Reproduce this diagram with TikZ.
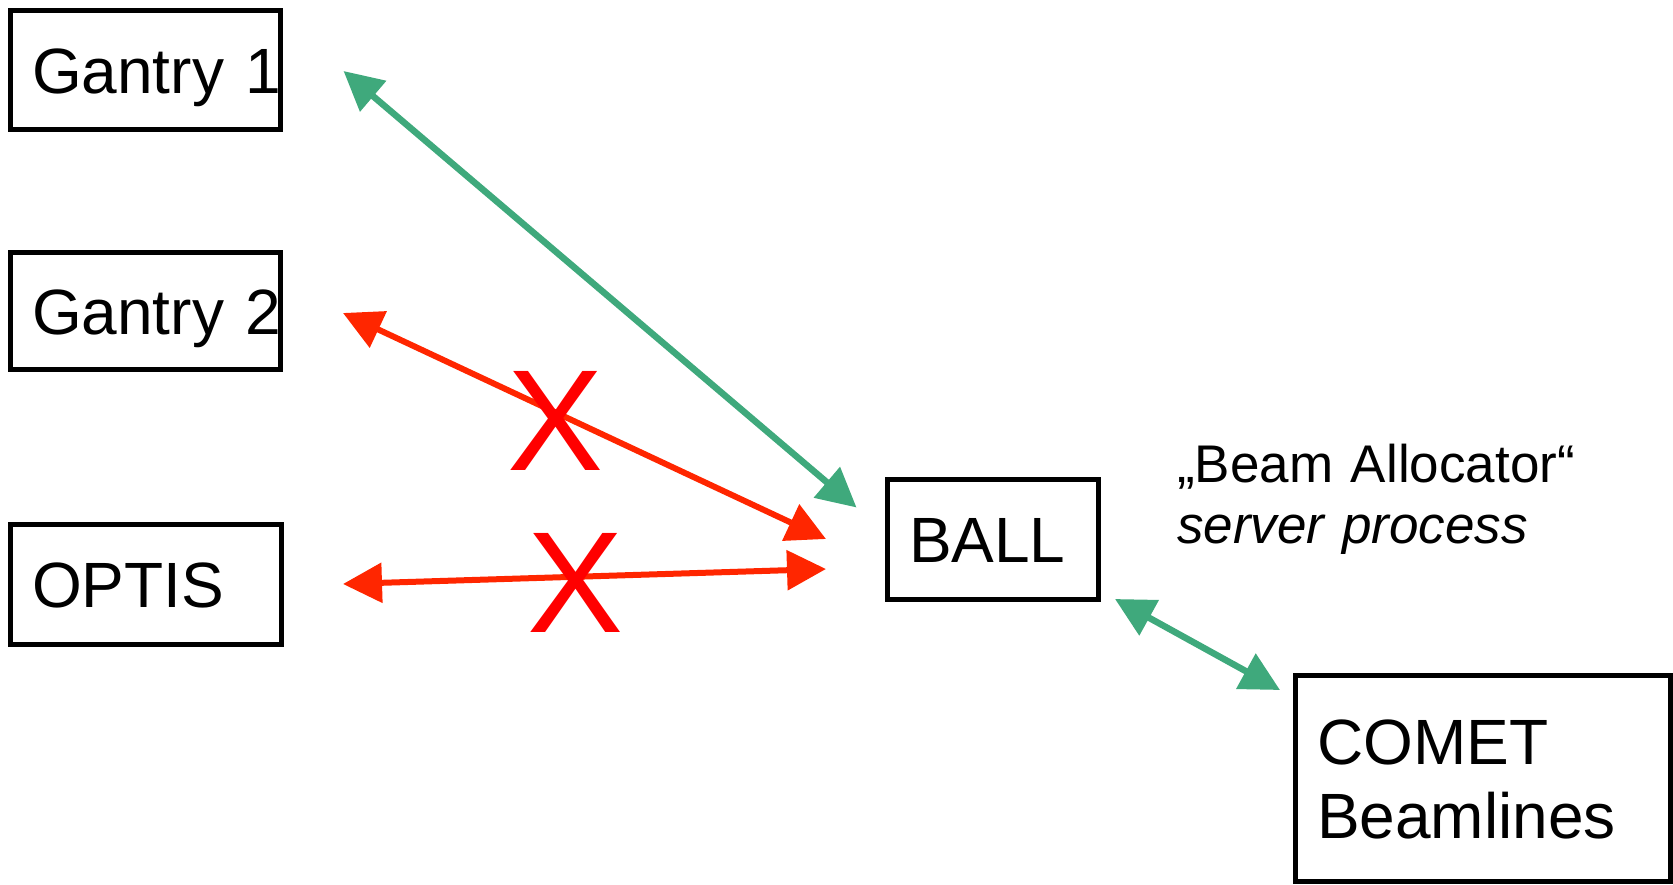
\documentclass[tikz,border=0pt]{standalone}
\usepackage{fontspec}
\setmainfont{Liberation Sans}
\usetikzlibrary{arrows.meta,calc}
\definecolor{arrgreen}{HTML}{3FA97C}
\definecolor{arrred}{HTML}{FF2600}
\definecolor{xred}{HTML}{FF0000}
\begin{document}
\begin{tikzpicture}[x=1pt,y=-1pt,
  boxnode/.style={draw=black, line width=5pt, rectangle, anchor=north west,
    outer sep=0pt, inner xsep=21.5pt, inner ysep=0pt, align=left,
    text height=46.5pt, text depth=0pt,
    font=\fontsize{64pt}{74pt}\selectfont},
  greenarrow/.style={draw=arrgreen, line width=6.5pt, {Triangle[length=39pt,width=39pt]}-{Triangle[length=39pt,width=39pt]}},
  redarrow/.style={draw=arrred, line width=6pt, {Triangle[length=39pt,width=39pt]}-{Triangle[length=39pt,width=39pt]}},
  xmark/.style={text=xred, font=\fontsize{144pt}{144pt}\selectfont, inner sep=0pt, anchor=base},
  notetext/.style={anchor=base west, inner sep=0pt, text width=440pt, align=left,
    font=\fontsize{53pt}{61pt}\selectfont}]
\useasboundingbox (0,0) rectangle (1673,884);

\node[boxnode, minimum width=270pt, minimum height=119pt, text width=227pt] (g1) at (10.5,10.5) {\mbox{Gantry 1}};
\node[boxnode, minimum width=270pt, minimum height=117pt, text width=227pt] (g2) at (10.5,252.5) {\mbox{Gantry 2}};
\node[boxnode, minimum width=271pt, minimum height=120pt, text width=228pt] (optis) at (10.5,524.5) {OPTIS};
\node[boxnode, minimum width=211pt, minimum height=120pt, text width=168pt] (ball) at (887.5,479.5) {BALL};
\node[boxnode, minimum width=375pt, minimum height=206pt, text width=332pt, text depth=74pt] (comet) at (1295.5,675.5) {COMET\\Beamlines};

\node[notetext] (note) at (1177,482) {„Beam Allocator“\\\textit{server process}};

\draw[greenarrow] ($(g1.east)+(63,1)$) -- ($(ball.north west)+(-31,28)$);
\draw[redarrow] ($(g2.east)+(62.5,2)$) -- ($(ball.west)+(-61.5,-0.5)$);
\draw[redarrow] ($(optis.east)+(61.5,-0.5)$) -- ($(ball.west)+(-61.5,29.5)$);
\draw[greenarrow] ($(ball.south east)+(16.5,-0.5)$) -- ($(comet.north west)+(-15.5,14.5)$);

\node[xmark] (x1) at (555.5,470) {X};
\node[xmark] (x2) at (576,632) {X};
\end{tikzpicture}
\end{document}
